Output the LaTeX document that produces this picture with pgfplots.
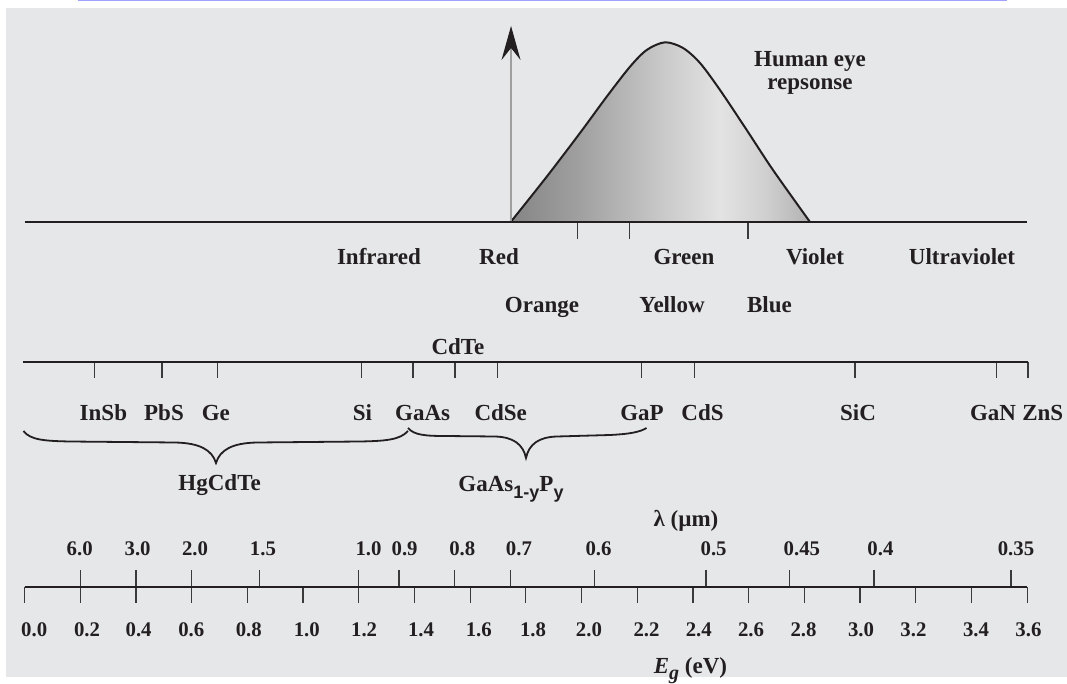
\documentclass[border=0pt]{standalone}
\usepackage{fontspec}
\setmainfont{Liberation Serif}
\newfontfamily\subsf{Liberation Sans}
\usepackage{pgfplots}
\pgfplotsset{compat=1.18}
\usetikzlibrary{arrows.meta}
\definecolor{bg}{HTML}{E6E7E9}
\definecolor{txt}{HTML}{231F20}
\definecolor{tickc}{HTML}{3A3A3A}
\definecolor{lav}{HTML}{A0A0FF}
\definecolor{shA}{HTML}{858585}
\definecolor{shB}{HTML}{A0A0A0}
\definecolor{shC}{HTML}{C8C8C8}
\definecolor{shD}{HTML}{E3E3E3}
\definecolor{shE}{HTML}{D0D0D0}
\definecolor{shF}{HTML}{B2B2B2}
\pgfdeclarehorizontalshading{eyeshade}{100bp}{color(0bp)=(shA); color(25bp)=(shA); color(36.5bp)=(shB); color(50bp)=(shC); color(60bp)=(shD); color(67.5bp)=(shE); color(75bp)=(shF); color(100bp)=(shF)}
\newcommand{\pp}[2]{(axis cs:{(#1-24.5)/278.5},#2)}
\newcommand{\lab}{\fontsize{11.5}{13}\selectfont\bfseries}
\newcommand{\numf}{\fontsize{10.4}{12}\selectfont\bfseries}
\newcommand{\subf}{\subsf\fontsize{9}{10}\selectfont\bfseries}
\begin{document}
\begin{tikzpicture}
\begin{axis}[width=533.5pt, height=338.5pt, scale only axis, hide axis, clip=false,
  xmin=-0.087971, xmax=3.743268, ymin=0, ymax=677, y dir=reverse]
% background
\fill[white] \pp{0}{0} rectangle \pp{1067}{677};
\fill[bg] \pp{6}{8.5} rectangle \pp{1067}{677};
\draw[lav, line width=0.7pt] \pp{77.7}{0.7} -- \pp{1007}{0.7};

% human eye response curve
\addplot[draw=txt, line width=1pt, smooth, shading=eyeshade] coordinates {
 (1.7458,222) (1.8751,176.7) (1.9946,133) (2.0905,96.7) (2.1742,66.7) (2.2341,50)
 (2.2998,42.3) (2.3645,48) (2.4255,63) (2.4973,90) (2.5932,130) (2.6876,170) (2.8205,222)};

% arrow
\addplot[color=gray!75, line width=0.6pt, -{Stealth[length=17pt, width=9.5pt, inset=6pt, color=txt]}] coordinates {(1.747,222) (1.747,26)};

% spectrum ticks
\addplot[tickc, line width=0.6pt, unbounded coords=jump] coordinates {
 (1.987,222) (1.987,239.5) (1.987,nan)
 (2.172,222) (2.172,239.5) (2.172,nan)
 (2.598,222) (2.598,239.5)};
% spectrum baseline
\addplot[txt, line width=1pt] coordinates {(0,222) (3.6,222)};

% materials ticks
\addplot[tickc, line width=0.6pt, unbounded coords=jump] coordinates {
 (0.252,362.5) (0.252,378.5) (0.252,nan)
 (0.494,362.5) (0.494,378.5) (0.494,nan)
 (0.693,362.5) (0.693,378.5) (0.693,nan)
 (1.210,362.5) (1.210,378.5) (1.210,nan)
 (1.395,362.5) (1.395,378.5) (1.395,nan)
 (1.546,362.5) (1.546,378.5) (1.546,nan)
 (1.697,362.5) (1.697,378.5) (1.697,nan)
 (2.214,362.5) (2.214,378.5) (2.214,nan)
 (2.406,362.5) (2.406,378.5) (2.406,nan)
 (2.982,362.5) (2.982,378.5) (2.982,nan)
 (3.491,362.5) (3.491,378.5) (3.491,nan)
 (3.603,362.5) (3.603,378.5)};
\addplot[txt, line width=1pt] coordinates {(-0.0036,362.5) (3.603,362.5)};

% Eg ticks (down)
\addplot[tickc, line width=0.6pt, unbounded coords=jump] coordinates {
 (0,587) (0,603) (0,nan) (0.2,587) (0.2,603) (0.2,nan)
 (0.4,587) (0.4,603) (0.4,nan) (0.6,587) (0.6,603) (0.6,nan)
 (0.8,587) (0.8,603) (0.8,nan) (1.0,587) (1.0,603) (1.0,nan)
 (1.2,587) (1.2,603) (1.2,nan) (1.4,587) (1.4,603) (1.4,nan)
 (1.6,587) (1.6,603) (1.6,nan) (1.8,587) (1.8,603) (1.8,nan)
 (2.0,587) (2.0,603) (2.0,nan) (2.2,587) (2.2,603) (2.2,nan)
 (2.4,587) (2.4,603) (2.4,nan) (2.6,587) (2.6,603) (2.6,nan)
 (2.8,587) (2.8,603) (2.8,nan) (3.0,587) (3.0,603) (3.0,nan)
 (3.2,587) (3.2,603) (3.2,nan) (3.4,587) (3.4,603) (3.4,nan)
 (3.6,587) (3.6,603)};
% lambda ticks (up)
\addplot[tickc, line width=0.6pt, unbounded coords=jump] coordinates {
 (0.2,570) (0.2,587) (0.2,nan) (0.4,570) (0.4,587) (0.4,nan)
 (0.6,570) (0.6,587) (0.6,nan) (0.844,570) (0.844,587) (0.844,nan)
 (1.2,570) (1.2,587) (1.2,nan) (1.345,570) (1.345,587) (1.345,nan)
 (1.545,570) (1.545,587) (1.545,nan) (1.746,570) (1.746,587) (1.746,nan)
 (2.046,570) (2.046,587) (2.046,nan) (2.447,570) (2.447,587) (2.447,nan)
 (2.748,570) (2.748,587) (2.748,nan) (3.050,570) (3.050,587) (3.050,nan)
 (3.542,570) (3.542,587)};
\addplot[txt, line width=1pt] coordinates {(0,587) (3.6,587)};

% braces
\draw[txt, line width=0.9pt] \pp{23.5}{431} .. controls \pp{30}{440} and \pp{45}{441} .. \pp{70}{441.5}
  -- \pp{175}{442.5} .. controls \pp{200}{443} and \pp{212}{450} .. \pp{216}{463}
  .. controls \pp{220}{450} and \pp{232}{443} .. \pp{257}{442.5}
  -- \pp{360}{441.5} .. controls \pp{385}{441} and \pp{400}{440} .. \pp{408}{431};
\draw[txt, line width=0.9pt] \pp{408}{428} .. controls \pp{414}{435} and \pp{425}{436} .. \pp{445}{436}
  -- \pp{495}{436.5} .. controls \pp{513}{437} and \pp{523}{444} .. \pp{526}{458}
  .. controls \pp{529}{444} and \pp{539}{437} .. \pp{557}{436.5}
  -- \pp{610}{435} .. controls \pp{630}{434} and \pp{640}{432} .. \pp{646.5}{428};

% labels
\begin{scope}[every node/.style={anchor=base, inner sep=0pt, text=txt, font=\lab}]
\node at \pp{810}{66.7} {Human eye};
\node at \pp{810}{90} {repsonse};
\node at \pp{379}{264.3} {Infrared};
\node at \pp{499}{264.3} {Red};
\node at \pp{684}{264.3} {Green};
\node at \pp{815}{264.3} {Violet};
\node at \pp{962}{264.3} {Ultraviolet};
\node at \pp{542}{312.3} {Orange};
\node at \pp{672}{312.3} {Yellow};
\node at \pp{769.5}{312.3} {Blue};
\node at \pp{458}{354.8} {CdTe};
\node at \pp{103.4}{420.2} {InSb};
\node at \pp{164}{420.2} {PbS};
\node at \pp{215.8}{420.2} {Ge};
\node at \pp{362.4}{420.2} {Si};
\node at \pp{422.7}{420.2} {GaAs};
\node at \pp{500.7}{420.2} {CdSe};
\node at \pp{642}{420.2} {GaP};
\node at \pp{702.5}{420.2} {CdS};
\node at \pp{858}{420.2} {SiC};
\node at \pp{993}{420.2} {GaN};
\node at \pp{1042.7}{420.2} {ZnS};
\node at \pp{219.6}{490.7} {HgCdTe};
\node at \pp{511}{491.7} {GaAs\raisebox{-3.2pt}{\subf 1-y}P\raisebox{-3.2pt}{\subf y}};
\node at \pp{686}{526.9} {λ (µm)};
\node at \pp{690.5}{673.4} {{\itshape E\raisebox{-3pt}{\fontsize{10}{11}\selectfont g}} (eV)};
\end{scope}
\begin{scope}[every node/.style={anchor=base, inner sep=0pt, text=txt, font=\numf}]
\node at \pp{79.7}{556} {6.0};
\node at \pp{137.6}{556} {3.0};
\node at \pp{195}{556} {2.0};
\node at \pp{262.9}{556} {1.5};
\node at \pp{368.5}{556} {1.0};
\node at \pp{404.6}{556} {0.9};
\node at \pp{462.3}{556} {0.8};
\node at \pp{519}{556} {0.7};
\node at \pp{598.5}{556} {0.6};
\node at \pp{713.6}{556} {0.5};
\node at \pp{801.9}{556} {0.45};
\node at \pp{880.4}{556} {0.4};
\node at \pp{1016}{556} {0.35};
\node at \pp{34.2}{636} {0.0};
\node at \pp{87}{636} {0.2};
\node at \pp{138.6}{636} {0.4};
\node at \pp{191.3}{636} {0.6};
\node at \pp{248.8}{636} {0.8};
\node at \pp{306.8}{636} {1.0};
\node at \pp{364.1}{636} {1.2};
\node at \pp{421}{636} {1.4};
\node at \pp{478.8}{636} {1.6};
\node at \pp{533}{636} {1.8};
\node at \pp{588.9}{636} {2.0};
\node at \pp{646.5}{636} {2.2};
\node at \pp{698.8}{636} {2.4};
\node at \pp{751}{636} {2.6};
\node at \pp{803.5}{636} {2.8};
\node at \pp{861}{636} {3.0};
\node at \pp{913.4}{636} {3.2};
\node at \pp{976}{636} {3.4};
\node at \pp{1028.5}{636} {3.6};
\end{scope}
\end{axis}
\end{tikzpicture}
\end{document}
